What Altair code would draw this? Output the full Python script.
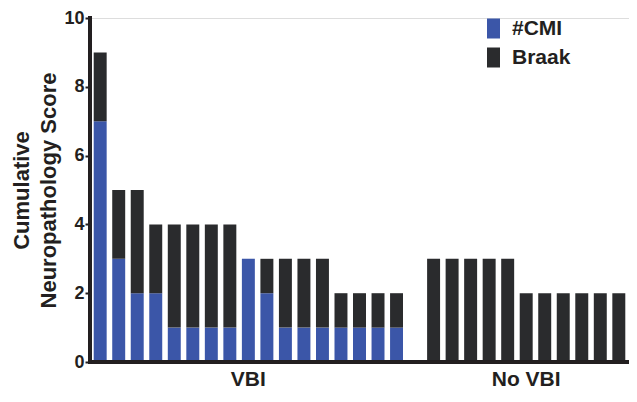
import altair as alt
import pandas as pd

# VBI group (17 cases): #CMI and Braak components
vbi_cmi = [7, 3, 2, 2, 1, 1, 1, 1, 3, 2, 1, 1, 1, 1, 1, 1, 1]
vbi_braak = [2, 2, 3, 2, 3, 3, 3, 3, 0, 1, 2, 2, 2, 1, 1, 1, 1]
# No VBI group (11 cases): Braak only
novbi_cmi = [0] * 11
novbi_braak = [3, 3, 3, 3, 3, 2, 2, 2, 2, 2, 2]

series = ["#CMI", "Braak"]
colors = ["#3B56A8", "#2A2B2D"]
group_labels = ["VBI", "No VBI"]

rows = []
slot = 0
for cmi, br in zip(vbi_cmi, vbi_braak):
    rows.append({"slot": slot, "series": "#CMI", "value": cmi, "ord": 0, "group": "VBI"})
    rows.append({"slot": slot, "series": "Braak", "value": br, "ord": 1, "group": "VBI"})
    slot += 1
vbi_center = (len(vbi_cmi) - 1) / 2
slot += 1  # empty gap slot
start_no = slot
for cmi, br in zip(novbi_cmi, novbi_braak):
    rows.append({"slot": slot, "series": "#CMI", "value": cmi, "ord": 0, "group": "No VBI"})
    rows.append({"slot": slot, "series": "Braak", "value": br, "ord": 1, "group": "No VBI"})
    slot += 1
novbi_center = start_no + (len(novbi_braak) - 1) / 2
n_slots = slot

df = pd.DataFrame(rows)

font = "Liberation Sans"
dark = "#231F20"

label_expr = (
    f"datum.value == {int(vbi_center)} ? '{group_labels[0]}' : "
    f"(datum.value == {int(novbi_center)} ? '{group_labels[1]}' : '')"
)

base = alt.Chart(df)

bars = base.mark_bar().encode(
    x=alt.X(
        "slot:O",
        scale=alt.Scale(domain=list(range(n_slots)), paddingInner=0.3, paddingOuter=0.2),
        axis=alt.Axis(
            title=None,
            labelExpr=label_expr,
            labelAngle=0,
            labelOverlap=False,
            ticks=False,
            domain=False,
            labelFont=font,
            labelFontSize=21,
            labelFontWeight="bold",
            labelColor=dark,
            labelPadding=6,
        ),
    ),
    y=alt.Y(
        "value:Q",
        stack="zero",
        scale=alt.Scale(domain=[0, 10], nice=False),
        axis=alt.Axis(
            title=["Cumulative", "Neuropathology Score"],
            titleFont=font,
            titleFontSize=22,
            titleFontWeight="bold",
            titleColor=dark,
            titleLineHeight=27,
            titlePadding=3,
            values=[0, 2, 4, 6, 8, 10],
            grid=False,
            domain=False,
            labelFont=font,
            labelFontSize=18,
            labelFontWeight="bold",
            labelColor=dark,
            labelPadding=1,
            tickSize=5,
            tickWidth=2,
            tickColor=dark,
        ),
    ),
    color=alt.Color(
        "series:N",
        scale=alt.Scale(domain=series, range=colors),
        legend=alt.Legend(
            title=None,
            orient="none",
            legendX=393,
            legendY=0,
            symbolType="M-0.65,-1H0.65V1H-0.65Z",
            symbolSize=400,
            symbolStrokeWidth=0,
            symbolOpacity=1,
            labelFont=font,
            labelFontSize=21,
            labelFontWeight="bold",
            labelColor=dark,
            labelOffset=8,
            rowPadding=7,
        ),
    ),
    order=alt.Order("ord:Q", sort="ascending"),
)

x_line = base.mark_rule(color=dark, strokeWidth=3).encode(y=alt.datum(0))
y_line = base.mark_rule(color=dark, strokeWidth=3, strokeCap="square").encode(x=alt.value(0))

chart = (
    alt.layer(bars, x_line, y_line)
    .properties(
        width=539,
        height=344,
        autosize=alt.AutoSizeParams(type="none"),
        padding={"left": 82, "top": 10, "right": 0, "bottom": 28},
    )
    .configure_view(stroke=None)
    .configure(background="white")
)

chart.save("out.html", embed_options={"renderer": "svg", "actions": False})
